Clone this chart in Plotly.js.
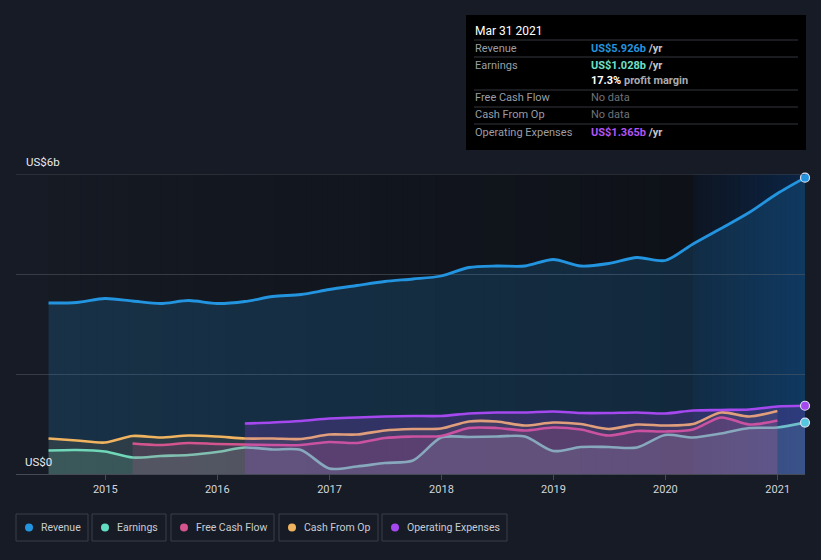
<!DOCTYPE html>
<html>
<head>
<meta charset="utf-8">
<script src="https://cdn.plot.ly/plotly-3.0.1.min.js"></script>
<style>
html,body{margin:0;padding:0;background:#161b25;}
#chart{width:821px;height:560px;}
</style>
</head>
<body>
<div id="chart"></div>
<script>
// ---- data (US$ billions, trailing twelve months) ----
const dates = ['2014-06-30','2014-09-30','2014-12-31','2015-03-31','2015-06-30','2015-09-30','2015-12-31',
  '2016-03-31','2016-06-30','2016-09-30','2016-12-31','2017-03-31','2017-06-30','2017-09-30','2017-12-31',
  '2018-03-31','2018-06-30','2018-09-30','2018-12-31','2019-03-31','2019-06-30','2019-09-30','2019-12-31',
  '2020-03-31','2020-06-30','2020-09-30','2020-12-31','2021-03-31'];
const revenue = [3.42,3.43,3.51,3.46,3.41,3.47,3.41,3.45,3.55,3.59,3.69,3.77,3.85,3.90,3.96,4.13,4.16,4.16,4.29,4.16,4.21,4.33,4.27,4.60,4.91,5.23,5.61,5.926];
const earnings = [0.47,0.48,0.45,0.33,0.36,0.38,0.44,0.53,0.49,0.48,0.11,0.15,0.22,0.27,0.73,0.74,0.75,0.75,0.46,0.54,0.54,0.53,0.78,0.73,0.81,0.92,0.93,1.028];
const cashFromOpDates = dates.slice(0,27);
const cashFromOp = [0.71,0.67,0.63,0.76,0.73,0.77,0.75,0.71,0.71,0.70,0.79,0.79,0.87,0.90,0.91,1.05,1.05,0.97,1.03,1.00,0.90,0.99,0.97,1.00,1.23,1.15,1.26];
const freeCashFlowDates = dates.slice(3,27);
const freeCashFlow = [0.61,0.58,0.62,0.60,0.59,0.58,0.58,0.64,0.62,0.72,0.75,0.76,0.92,0.92,0.87,0.93,0.89,0.77,0.86,0.85,0.89,1.13,0.99,1.07];
const opexDates = dates.slice(7);
const opex = [1.01,1.03,1.06,1.11,1.13,1.15,1.16,1.16,1.21,1.23,1.23,1.25,1.22,1.22,1.23,1.21,1.27,1.28,1.29,1.35,1.365];
const tickVals = ['2015-01-01','2016-01-01','2017-01-01','2018-01-01','2019-01-01','2020-01-01','2021-01-01'];
const tickText = ['2015','2016','2017','2018','2019','2020','2021'];
const seriesNames = ['Revenue','Earnings','Free Cash Flow','Cash From Op','Operating Expenses'];
const seriesColors = ['#2394df','#62dcc2','#d4548e','#f0b35f','#a548f0'];
const hoverDate = 'Mar 31 2021';

// ---- geometry helpers (pixel -> paper) ----
const W = 821, H = 560, ML = 16, MR = 16, MT = 174, MB = 86;
const PW = W - ML - MR, PH = H - MT - MB;
const px = v => (v - ML) / PW;
const py = v => (H - MB - v) / PH;

const FONT = 'Roboto, "Open Sans", sans-serif';
const fills = ['rgba(35,148,223,0.19)','rgba(110,230,200,0.16)','rgba(214,84,143,0.17)','rgba(240,180,95,0.10)','rgba(164,76,240,0.20)'];

function line(x, y, i, w) {
  return {x: x, y: y, type: 'scatter', mode: 'lines', name: seriesNames[i],
    line: {color: seriesColors[i], width: w || 2.6, shape: 'spline', smoothing: 0.8},
    fill: 'tozeroy', fillcolor: fills[i], hoverinfo: 'skip', showlegend: false};
}

const traces = [
  line(dates, revenue, 0, 2.8),
  line(dates, earnings, 1),
  line(cashFromOpDates, cashFromOp, 3),
  line(freeCashFlowDates, freeCashFlow, 2),
  line(opexDates, opex, 4),
  {x: [dates[dates.length-1], dates[dates.length-1], opexDates[opexDates.length-1]],
   y: [revenue[revenue.length-1], earnings[earnings.length-1], opex[opex.length-1]],
   type: 'scatter', mode: 'markers', cliponaxis: false, hoverinfo: 'skip', showlegend: false,
   marker: {size: 9, color: [seriesColors[0], '#55c8e0', seriesColors[4]], line: {color: '#d8def0', width: 1.2}}}
];

// ---- background shading: opaque stepped gradient, each slice overlaps the next (no seams) ----
const shapes = [];
function tms(d) { return new Date(d + 'T00:00:00Z').getTime(); }
function iso(ms) { return new Date(ms).toISOString().slice(0,10); }
function grad(d0, d1, c0, c1, n) {
  const a = tms(d0), b = tms(d1);
  for (let k = 0; k < n; k++) {
    const t = (k + 0.5) / n;
    const c = c0.map((v, j) => Math.round(v + (c1[j] - v) * t));
    shapes.push({type: 'rect', layer: 'below', xref: 'x', yref: 'paper',
      x0: iso(a + (b - a) * k / n), x1: (k === n - 1) ? d1 : iso(a + (b - a) * (k + 2) / n), y0: 0, y1: 1,
      fillcolor: 'rgb(' + c.join(',') + ')', line: {width: 0}});
  }
}
grad(dates[0], dates[23], [21,26,35], [14,17,24], 40);
grad(dates[23], dates[27], [13,21,34], [12,36,68], 24);
shapes.push({type: 'line', xref: 'paper', yref: 'y', x0: 0, x1: 1, y0: 6, y1: 6,
  line: {color: '#40454f', width: 1}});

// ---- tooltip box ----
shapes.push({type: 'rect', xref: 'paper', yref: 'paper', x0: px(466), x1: px(806), y0: py(150), y1: py(15),
  fillcolor: '#000000', line: {width: 0}});
[40, 57, 90, 107, 124].forEach(yy => shapes.push({type: 'line', xref: 'paper', yref: 'paper',
  x0: px(474), x1: px(798), y0: py(yy), y1: py(yy), line: {color: '#34373d', width: 1}}));

// ---- legend boxes ----
const legendBoxes = [[16,88],[92,166],[171,274],[279,378],[382,507]];
const annotations = [];
legendBoxes.forEach((b, i) => {
  shapes.push({type: 'rect', xref: 'paper', yref: 'paper', x0: px(b[0]), x1: px(b[1]), y0: py(541), y1: py(514),
    fillcolor: 'rgba(0,0,0,0)', line: {color: '#3a3f4a', width: 1}});
  shapes.push({type: 'circle', xref: 'paper', yref: 'paper', xsizemode: 'pixel', ysizemode: 'pixel',
    xanchor: px(b[0] + 13), yanchor: py(527.5), x0: -4, x1: 4, y0: -4, y1: 4,
    fillcolor: seriesColors[i], line: {width: 0}});
  annotations.push({xref: 'paper', yref: 'paper', x: px(b[0] + 23), y: py(527.5), xanchor: 'left', yanchor: 'middle',
    showarrow: false, text: seriesNames[i], font: {family: FONT, size: 10.5, color: '#c9ccd2'}});
});

// ---- y labels ----
annotations.push({xref: 'paper', yref: 'paper', x: px(24), y: py(162), xanchor: 'left', yanchor: 'middle',
  showarrow: false, text: 'US$6b', font: {family: FONT, size: 11.5, color: '#e8eaee'}});
annotations.push({xref: 'paper', yref: 'paper', x: px(23), y: py(462), xanchor: 'left', yanchor: 'middle',
  showarrow: false, text: 'US$0', font: {family: FONT, size: 11.5, color: '#e8eaee'}});

// ---- tooltip text ----
const last = a => a[a.length - 1];
const margin = (last(earnings) / last(revenue) * 100).toFixed(1);
function tip(y, x, text, color, size) {
  annotations.push({xref: 'paper', yref: 'paper', x: px(x), y: py(y), xanchor: 'left', yanchor: 'middle',
    showarrow: false, text: text, font: {family: FONT, size: size || 11, color: color}});
}
tip(31, 473, hoverDate, '#ffffff', 12);
tip(48, 473, 'Revenue', '#9a9ea6');
tip(65, 473, 'Earnings', '#9a9ea6');
tip(98, 473, 'Free Cash Flow', '#9a9ea6');
tip(115, 473, 'Cash From Op', '#9a9ea6');
tip(132, 473, 'Operating Expenses', '#9a9ea6');
tip(48, 589, '<b><span style="color:' + seriesColors[0] + '">US$' + last(revenue).toFixed(3) + 'b</span> /yr</b>', '#c4c7cc');
tip(65, 589, '<b><span style="color:#6fe0c8">US$' + last(earnings).toFixed(3) + 'b</span> /yr</b>', '#c4c7cc');
tip(81, 589, '<b><span style="color:#ffffff">' + margin + '%</span> profit margin</b>', '#a8abb1');
tip(98, 589, 'No data', '#6f7379');
tip(115, 589, 'No data', '#6f7379');
tip(132, 589, '<b><span style="color:#b154f5">US$' + last(opex).toFixed(3) + 'b</span> /yr</b>', '#c4c7cc');

const layout = {
  width: W, height: H,
  margin: {l: ML, r: MR, t: MT, b: MB, pad: 0},
  paper_bgcolor: '#161b25', plot_bgcolor: 'rgba(0,0,0,0)',
  font: {family: FONT, color: '#d0d3d8'},
  showlegend: false,
  xaxis: {type: 'date', range: ['2014-03-16', '2021-03-31'], tickvals: tickVals, ticktext: tickText,
    showgrid: false, showline: true, linecolor: '#454a55', linewidth: 1, ticks: 'outside', ticklen: 5,
    tickcolor: '#454a55', tickfont: {family: FONT, size: 11, color: '#d3d6db'}, zeroline: false, fixedrange: true},
  yaxis: {range: [0, 6], tickvals: [0, 2, 4, 6], showticklabels: false, showgrid: true, gridcolor: '#363b46',
    gridwidth: 1, zeroline: false, showline: false, fixedrange: true},
  shapes: shapes,
  annotations: annotations
};

Plotly.newPlot('chart', traces, layout, {displayModeBar: false, staticPlot: true});
</script>
</body>
</html>
